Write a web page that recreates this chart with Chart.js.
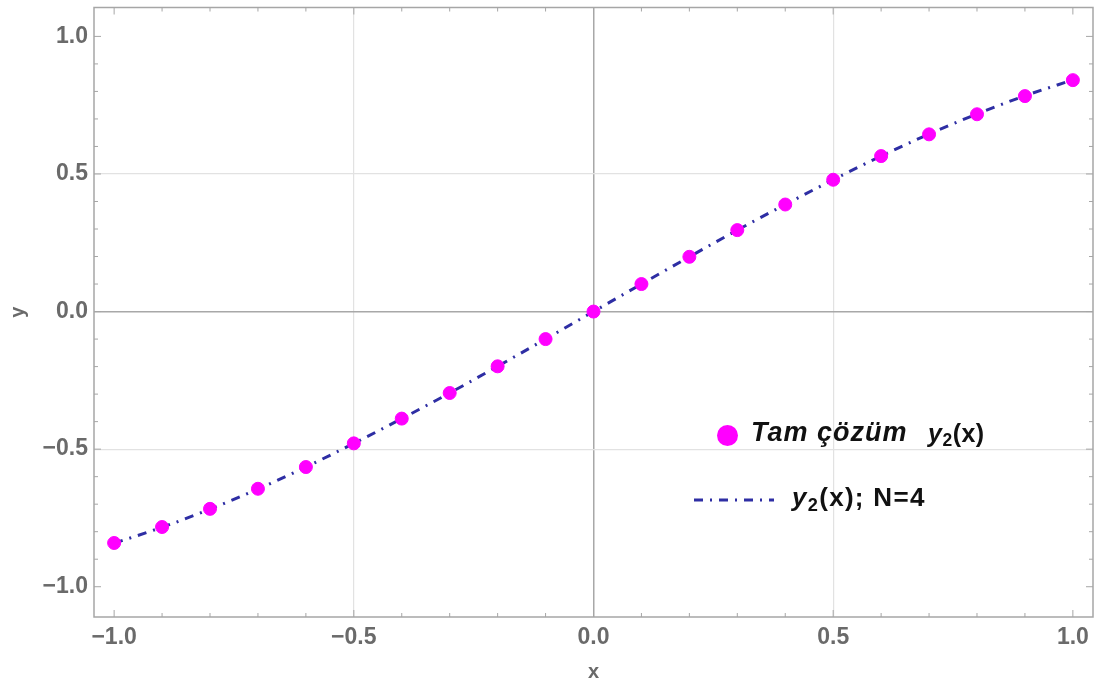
<!DOCTYPE html>
<html>
<head>
<meta charset="utf-8">
<script src="https://cdn.jsdelivr.net/npm/chart.js@4/dist/chart.umd.min.js"></script>
<style>
  html, body { margin: 0; padding: 0; background: #fff; }
  #wrap { position: relative; width: 1103px; height: 686px; }
  #legend { position: absolute; left: 0; top: 0; font-family: "Liberation Sans", Arial, sans-serif; color: #111; }
  .row { position: absolute; white-space: nowrap; font-weight: bold; }
  .dot { position: absolute; width: 21px; height: 21px; border-radius: 50%; background: #ff00ff; }
  sub { font-size: 70%; vertical-align: -0.25em; font-style: normal; }
</style>
</head>
<body>
<div id="wrap">
  <canvas id="chart" width="1103" height="686"></canvas>
  <div id="legend">
    <div class="dot" style="left:717px; top:425px;"></div>
    <div class="row" style="left:751px; top:417px; font-size:27px; font-style:italic; letter-spacing:1px;">Tam çözüm</div>
    <div class="row" style="left:928px; top:419px; font-size:25px; letter-spacing:0.5px;"><i>y</i><sub>2</sub>(x)</div>
    <canvas id="legLine" width="80" height="10" style="position:absolute; left:694px; top:495px;"></canvas>
    <div class="row" style="left:792px; top:482px; font-size:26px; letter-spacing:1.3px;"><i>y</i><sub>2</sub>(x); N=4</div>
  </div>
</div>
<script>
// exact solution points and N=4 approximation
const xValues = [-1.0, -0.9, -0.8, -0.7, -0.6, -0.5, -0.4, -0.3, -0.2, -0.1, 0.0, 0.1, 0.2, 0.3, 0.4, 0.5, 0.6, 0.7, 0.8, 0.9, 1.0];
const exactY = [-0.841, -0.783, -0.717, -0.644, -0.565, -0.479, -0.389, -0.296, -0.199, -0.100, 0.0, 0.100, 0.199, 0.296, 0.389, 0.479, 0.565, 0.644, 0.717, 0.783, 0.841];
const approxY = [-0.842, -0.784, -0.718, -0.645, -0.565, -0.479, -0.389, -0.296, -0.199, -0.100, 0.0, 0.100, 0.199, 0.296, 0.389, 0.479, 0.565, 0.645, 0.718, 0.784, 0.842];
const tickValues = [-1.0, -0.9, -0.8, -0.7, -0.6, -0.5, -0.4, -0.3, -0.2, -0.1, 0.0, 0.1, 0.2, 0.3, 0.4, 0.5, 0.6, 0.7, 0.8, 0.9, 1.0];

const LINE_COLOR = '#2e2ea4';
const FRAME_COLOR = '#a6a6a6';
const LABEL_COLOR = '#6a6a6a';

function isMajor(v) { return Math.abs(v * 2 - Math.round(v * 2)) < 1e-6; }
function fmt(v) {
  if (!isMajor(v)) return '';
  const s = Math.abs(v).toFixed(1);
  return v < -1e-9 ? '\u2212' + s : s;
}
function gridColor(ctx) {
  const v = ctx.tick ? ctx.tick.value : null;
  if (v === null) return 'transparent';
  if (Math.abs(v) < 1e-6) return '#a8a8a8';
  if (Math.abs(Math.abs(v) - 0.5) < 1e-6) return '#e2e2e2';
  return 'transparent';
}

// frame on all four sides with inward tick marks
const framePlugin = {
  id: 'frame',
  afterDraw(chart) {
    const {ctx, chartArea: a, scales: {x, y}} = chart;
    ctx.save();
    ctx.strokeStyle = FRAME_COLOR;
    ctx.lineWidth = 1.5;
    ctx.strokeRect(a.left, a.top, a.right - a.left, a.bottom - a.top);
    ctx.lineWidth = 1;
    ctx.beginPath();
    tickValues.forEach(v => {
      const len = isMajor(v) ? 7 : 4;
      const px = x.getPixelForValue(v);
      ctx.moveTo(px, a.bottom); ctx.lineTo(px, a.bottom - len);
      ctx.moveTo(px, a.top); ctx.lineTo(px, a.top + len);
      const py = y.getPixelForValue(v);
      ctx.moveTo(a.left, py); ctx.lineTo(a.left + len, py);
      ctx.moveTo(a.right, py); ctx.lineTo(a.right - len, py);
    });
    ctx.stroke();
    ctx.restore();
  }
};

const tickFont = { family: '"Liberation Sans", Arial, sans-serif', size: 23, weight: 'bold' };
const titleFont = { family: '"Liberation Sans", Arial, sans-serif', size: 20, weight: 'bold' };

new Chart(document.getElementById('chart'), {
  type: 'scatter',
  data: {
    datasets: [
      {
        label: 'Tam çözüm y2(x)',
        data: xValues.map((x, i) => ({ x, y: exactY[i] })),
        backgroundColor: '#ff00ff',
        borderColor: '#ff00ff',
        pointRadius: 6.5,
        showLine: false,
        order: 1
      },
      {
        label: 'y2(x); N=4',
        data: xValues.map((x, i) => ({ x, y: approxY[i] })),
        borderColor: LINE_COLOR,
        borderWidth: 3,
        borderDash: [9, 7, 2, 7],
        pointRadius: 0,
        showLine: true,
        cubicInterpolationMode: 'monotone',
        order: 2
      }
    ]
  },
  options: {
    responsive: false,
    animation: false,
    layout: { padding: { top: 7, right: 10, left: 0, bottom: 0 } },
    plugins: { legend: { display: false }, tooltip: { enabled: false } },
    scales: {
      x: {
        type: 'linear',
        min: -1.042, max: 1.042,
        afterBuildTicks: s => { s.ticks = tickValues.map(v => ({ value: v })); },
        afterFit: s => { s.height = 69; s.paddingLeft = 0; s.paddingRight = 0; },
        border: { display: false },
        grid: { color: gridColor, lineWidth: c => (c.tick && Math.abs(c.tick.value) < 1e-6 ? 1.5 : 1.2), drawTicks: false },
        ticks: { callback: v => fmt(v), color: LABEL_COLOR, font: tickFont, padding: 7, maxRotation: 0, autoSkip: false },
        title: { display: true, text: 'x', color: LABEL_COLOR, font: titleFont, padding: { top: 0, bottom: 2 } }
      },
      y: {
        type: 'linear',
        min: -1.11, max: 1.105,
        afterBuildTicks: s => { s.ticks = tickValues.map(v => ({ value: v })); },
        afterFit: s => { s.width = 94; s.paddingTop = 0; s.paddingBottom = 0; },
        border: { display: false },
        grid: { color: gridColor, lineWidth: c => (c.tick && Math.abs(c.tick.value) < 1e-6 ? 1.5 : 1.2), drawTicks: false },
        ticks: { callback: v => fmt(v), color: LABEL_COLOR, font: tickFont, padding: 6, autoSkip: false },
        title: { display: true, text: 'y', color: LABEL_COLOR, font: titleFont, padding: { top: 6, bottom: 0 } }
      }
    }
  },
  plugins: [framePlugin]
});

// legend line sample
const lc = document.getElementById('legLine').getContext('2d');
lc.strokeStyle = LINE_COLOR;
lc.lineWidth = 3;
lc.setLineDash([9, 7, 2, 7]);
lc.beginPath(); lc.moveTo(0, 5); lc.lineTo(80, 5); lc.stroke();
</script>
</body>
</html>
